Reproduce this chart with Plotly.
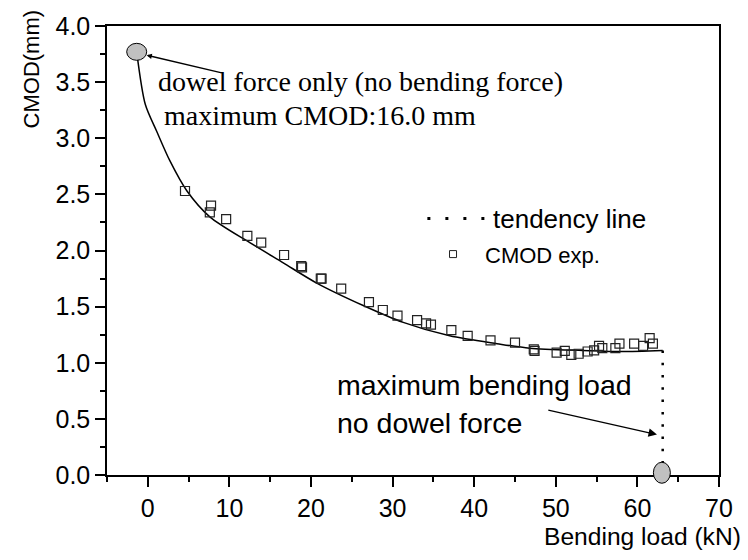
import plotly.graph_objects as go

# ---- data ----
curve_x = [-1.36, -0.3, 1.1, 2.7, 4.8, 7.6, 12.5, 16.6, 20.7, 26.4, 31.3, 37.0, 42.8, 46.8, 53.3, 58.0, 63.1]
curve_y = [3.77, 3.30, 3.06, 2.80, 2.53, 2.30, 2.07, 1.89, 1.71, 1.51, 1.36, 1.24, 1.17, 1.13, 1.11, 1.10, 1.11]

drop_x = [63.1, 63.1]
drop_y = [1.11, 0.05]

exp_x = [4.56, 7.75, 7.6, 9.6, 12.2, 13.9, 16.7, 18.8, 18.9, 21.2, 21.3, 23.7, 27.1, 28.8, 30.6,
         33.0, 34.1, 34.7, 37.2, 39.2, 42.0, 45.0, 47.3, 47.4, 50.1, 51.1, 51.9, 52.8, 53.9, 54.7,
         55.3, 55.7, 57.3, 57.8, 59.6, 60.7, 61.5, 61.9]
exp_y = [2.53, 2.40, 2.34, 2.28, 2.13, 2.07, 1.96, 1.86, 1.85, 1.75, 1.75, 1.66, 1.54, 1.47, 1.42,
         1.38, 1.35, 1.34, 1.29, 1.24, 1.20, 1.18, 1.12, 1.105, 1.09, 1.105, 1.07, 1.08, 1.10, 1.11,
         1.15, 1.13, 1.13, 1.17, 1.17, 1.15, 1.22, 1.17]

start_pt = (-1.36, 3.77)   # dowel force only
end_pt = (63.0, 0.02)      # max bending load

x_ticks = [0, 10, 20, 30, 40, 50, 60, 70]
y_ticks = [0.0, 0.5, 1.0, 1.5, 2.0, 2.5, 3.0, 3.5, 4.0]
x_range = [-5, 70]
y_range = [0, 4]

SANS = "Liberation Sans, Arial, sans-serif"
SERIF = "Liberation Serif, Times New Roman, serif"

fig = go.Figure()

fig.add_trace(go.Scatter(x=curve_x, y=curve_y, mode="lines",
                         line=dict(color="black", width=1.5, shape="spline", smoothing=0.8),
                         showlegend=False, hoverinfo="skip"))
fig.add_trace(go.Scatter(x=drop_x, y=drop_y, mode="lines",
                         line=dict(color="black", width=2.5, dash="2.5px,9.8px"),
                         showlegend=False, hoverinfo="skip"))
fig.add_trace(go.Scatter(x=exp_x, y=exp_y, mode="markers",
                         marker=dict(symbol="square-open", size=9, color="#222",
                                     line=dict(color="#222", width=1.2)),
                         showlegend=False))

def to_paper_y(v):
    return (v - y_range[0]) / (y_range[1] - y_range[0])

shapes = []
# grey ellipses (y in paper units so they are not clipped at the axis)
shapes.append(dict(type="circle", xref="x", yref="paper", xsizemode="pixel", ysizemode="pixel",
                   xanchor=start_pt[0], yanchor=to_paper_y(start_pt[1]), x0=-10, x1=10, y0=-8.5, y1=8.5,
                   fillcolor="#c0c0c0", line=dict(color="black", width=1), layer="above"))
shapes.append(dict(type="circle", xref="x", yref="paper", xsizemode="pixel", ysizemode="pixel",
                   xanchor=end_pt[0], yanchor=to_paper_y(end_pt[1]), x0=-8.5, x1=8.5, y0=-10.5, y1=10.5,
                   fillcolor="#c0c0c0", line=dict(color="black", width=1), layer="above"))
# manual legend
shapes.append(dict(type="line", xref="paper", yref="paper", x0=0.5235, x1=0.6190, y0=0.571, y1=0.571,
                   line=dict(color="black", width=3, dash="3px,15px")))
shapes.append(dict(type="rect", xref="paper", yref="paper", xsizemode="pixel", ysizemode="pixel",
                   xanchor=0.5654, yanchor=0.492, x0=-3.5, x1=3.5, y0=-3.5, y1=3.5,
                   line=dict(color="#222", width=1), fillcolor="rgba(0,0,0,0)"))

annotations = [
    dict(x=1.0, y=3.51, xref="x", yref="y", text="dowel force only (no bending force)",
         showarrow=False, xanchor="left", yanchor="middle", font=dict(family=SERIF, size=28, color="black")),
    dict(x=1.75, y=3.20, xref="x", yref="y", text="maximum CMOD:16.0 mm",
         showarrow=False, xanchor="left", yanchor="middle", font=dict(family=SERIF, size=28, color="black")),
    dict(x=23.0, y=0.80, xref="x", yref="y", text="maximum bending load",
         showarrow=False, xanchor="left", yanchor="middle", font=dict(family=SANS, size=28.5, color="black")),
    dict(x=23.0, y=0.462, xref="x", yref="y", text="no dowel force",
         showarrow=False, xanchor="left", yanchor="middle", font=dict(family=SANS, size=28.5, color="black")),
    # arrows
    dict(x=-0.14, y=3.74, ax=9.25, ay=3.58, xref="x", yref="y", axref="x", ayref="y", text="",
         showarrow=True, arrowhead=2, arrowsize=0.8, arrowwidth=1.3, arrowcolor="black", standoff=0),
    dict(x=62.4, y=0.36, ax=48.9, ay=0.58, xref="x", yref="y", axref="x", ayref="y", text="",
         showarrow=True, arrowhead=2, arrowsize=1.3, arrowwidth=1.3, arrowcolor="black", standoff=0),
    # legend texts
    dict(x=0.628, y=0.571, xref="paper", yref="paper", text="tendency line", showarrow=False,
         xanchor="left", yanchor="middle", font=dict(family=SANS, size=26, color="black")),
    dict(x=0.614, y=0.489, xref="paper", yref="paper", text="CMOD exp.", showarrow=False,
         xanchor="left", yanchor="middle", font=dict(family=SANS, size=22, color="black")),
    # axis titles
    dict(x=743, y=537, text="Bending load (kN)", showarrow=False,
         xanchor="right", yanchor="middle", font=dict(family=SANS, size=24.6, color="black")),
    dict(x=31, y=64, text="CMOD(mm)", showarrow=False, textangle=-90,
         xanchor="center", yanchor="middle", font=dict(family=SANS, size=22, color="black")),
]
# convert pixel-positioned titles to paper coords
L, R, T, B = 107, 719, 20, 475
for a in annotations[-2:]:
    a["xref"] = "paper"; a["yref"] = "paper"
    a["x"] = (a["x"] - L) / (R - L)
    a["y"] = (B - a["y"]) / (B - T)

fig.update_layout(
    width=748, height=560,
    margin=dict(l=L, r=748 - R, t=T, b=560 - B),
    paper_bgcolor="white", plot_bgcolor="white",
    showlegend=False,
    shapes=shapes, annotations=annotations,
    font=dict(family=SANS, color="black"),
)
fig.update_xaxes(range=x_range, tickvals=x_ticks, ticktext=[str(v) for v in x_ticks],
                 ticks="outside", ticklen=10, tickwidth=1.5, tickcolor="black",
                 minor=dict(dtick=5, tick0=-5, ticks="outside", ticklen=5, tickwidth=1.5, tickcolor="black"),
                 showline=True, linecolor="black", linewidth=1.5, mirror=True,
                 showgrid=False, zeroline=False,
                 tickfont=dict(family=SANS, size=25, color="black"))
fig.update_yaxes(range=y_range, tickvals=y_ticks, ticktext=[f"{v:.1f}" for v in y_ticks],
                 ticks="outside", ticklen=10, tickwidth=1.5, tickcolor="black",
                 minor=dict(dtick=0.25, tick0=0, ticks="outside", ticklen=5, tickwidth=1.5, tickcolor="black"),
                 showline=True, linecolor="black", linewidth=1.5, mirror=True,
                 showgrid=False, zeroline=False,
                 tickfont=dict(family=SANS, size=25, color="black"))

fig.write_html("out.html")
